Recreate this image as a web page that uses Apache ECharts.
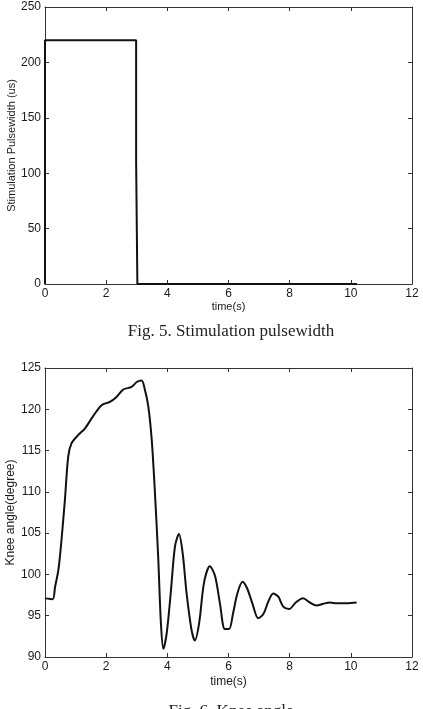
<!DOCTYPE html>
<html>
<head>
<meta charset="utf-8">
<script src="https://cdn.jsdelivr.net/npm/echarts@6/dist/echarts.min.js"></script>
<style>
    html, body { margin: 0; padding: 0; background: #fff; }
    #main { width: 423px; height: 709px; }
</style>
</head>
<body>
<div id="main"></div>
<script>
// 刺激脉宽数据
var pulseTime = [0, 0, 2.98, 2.98, 3.02, 3.02, 10.2]
var pulseValue = [0, 220, 220, 110, 110, 0, 0]

// 膝关节角度数据
var kneeTime = [0, 0.25, 0.33, 0.44, 0.54, 0.65, 0.76, 0.87, 1.09, 1.31, 1.58, 1.85, 2.12, 2.34, 2.56, 2.83, 3.0, 3.16,
    3.27, 3.38, 3.49, 3.59, 3.70, 3.79, 3.87, 3.98, 4.11, 4.25, 4.38, 4.5, 4.63, 4.79, 4.9, 5.04, 5.2, 5.39,
    5.56, 5.72, 5.88, 6.02, 6.15, 6.29, 6.46, 6.61, 6.78, 6.97, 7.14, 7.3, 7.46, 7.63, 7.79, 7.98, 8.2, 8.44,
    8.66, 8.88, 9.1, 9.31, 9.53, 9.86, 10.19]
var kneeValue = [97.1, 97.0, 98.5, 100.6, 104.2, 109, 114.3, 115.9, 116.9, 117.7, 119.2, 120.5, 120.9, 121.5, 122.4, 122.7, 123.3, 123.5,
    122.3, 120.3, 116.3, 110.2, 102.2, 94.1, 91.0, 92.9, 97.7, 103.4, 104.9, 102.6, 97.7, 93.3, 92.0, 94.1, 99.0, 101.0,
    99.8, 96.5, 93.4, 93.4, 95.3, 97.7, 99.1, 98.3, 96.5, 94.7, 95.2, 96.7, 97.7, 97.3, 96.1, 95.8, 96.6, 97.1,
    96.6, 96.25, 96.45, 96.6, 96.5, 96.5, 96.6]

// 刻度范围
var xRange = [0, 12, 2]
var pulseRange = [0, 250, 50]
var kneeRange = [90, 125, 5]

var labelColor = '#1a1a1a'
var frameColor = '#333'

function zip(a, b) {
    var arr = []
    for (var i = 0; i < a.length; i++) {
        arr.push([a[i], b[i]])
    }
    return arr
}

// 公共坐标轴样式
function makeAxis(grid, pos, range, show, extra) {
    var axis = {
        type: 'value',
        gridIndex: grid,
        position: pos,
        min: range[0],
        max: range[1],
        interval: range[2],
        axisLine: { show: true, onZero: false, lineStyle: { color: frameColor, width: 1 } },
        axisTick: { show: true, inside: true, length: 4, lineStyle: { color: frameColor } },
        axisLabel: {
            show: show,
            color: labelColor,
            fontFamily: 'Liberation Sans',
            fontSize: 12,
            margin: 4
        },
        splitLine: { show: false }
    }
    for (var k in extra) {
        axis[k] = extra[k]
    }
    return axis
}

function nameStyle(size) {
    return { color: labelColor, fontFamily: 'Liberation Sans', fontSize: size }
}

var captionStyle = { fontFamily: 'Liberation Serif', fontSize: 17, fontWeight: 'normal', color: '#222' }

var option = {
    animation: false,
    title: [
        { text: 'Fig. 5. Stimulation pulsewidth', left: 226, textAlign: 'center', top: 318, textStyle: captionStyle },
        { text: 'Fig. 6. Knee angle', left: 226, textAlign: 'center', top: 698, textStyle: captionStyle }
    ],
    grid: [
        { left: 45, top: 7, width: 367, height: 277, containLabel: false, outerBoundsMode: 'none' },
        { left: 45, top: 368, width: 367, height: 289, containLabel: false, outerBoundsMode: 'none' }
    ],
    xAxis: [
        makeAxis(0, 'bottom', xRange, true, {
            name: 'time(s)', nameLocation: 'middle', nameGap: 17, nameTextStyle: nameStyle(11)
        }),
        makeAxis(0, 'top', xRange, false, {}),
        makeAxis(1, 'bottom', xRange, true, {
            name: 'time(s)', nameLocation: 'middle', nameGap: 19, nameTextStyle: nameStyle(12)
        }),
        makeAxis(1, 'top', xRange, false, {})
    ],
    yAxis: [
        makeAxis(0, 'left', pulseRange, true, {
            name: 'Stimulation Pulsewidth (us)', nameLocation: 'middle', nameGap: 28,
            nameMoveOverlap: false, nameTextStyle: nameStyle(11)
        }),
        makeAxis(0, 'right', pulseRange, false, {}),
        makeAxis(1, 'left', kneeRange, true, {
            name: 'Knee angle(degree)', nameLocation: 'middle', nameGap: 28,
            nameMoveOverlap: false, nameTextStyle: nameStyle(12)
        }),
        makeAxis(1, 'right', kneeRange, false, {})
    ],
    series: [
        {
            type: 'line',
            xAxisIndex: 0,
            yAxisIndex: 0,
            data: zip(pulseTime, pulseValue),
            showSymbol: false,
            lineStyle: { color: '#111', width: 2 }
        },
        {
            type: 'line',
            xAxisIndex: 2,
            yAxisIndex: 2,
            data: zip(kneeTime, kneeValue),
            showSymbol: false,
            smooth: 0.3,
            lineStyle: { color: '#111', width: 2 }
        }
    ]
}

var myChart = echarts.init(document.getElementById('main'))
myChart.setOption(option)
</script>
</body>
</html>
